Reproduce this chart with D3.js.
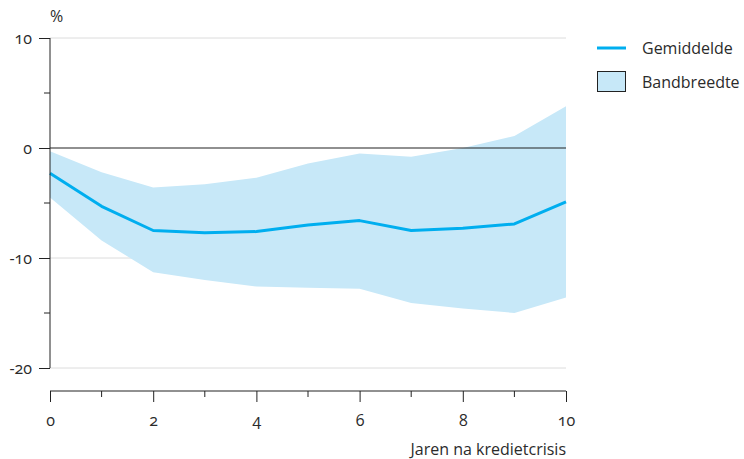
<!DOCTYPE html>
<html>
<head>
<meta charset="utf-8">
<script src="https://cdn.jsdelivr.net/npm/d3@7"></script>
<style>
  body { margin: 0; background: #fff; }
  text { font-family: "Open Sans", Lato, sans-serif; font-size: 16px; fill: #2b2b2b; font-variant-numeric: oldstyle-nums; }
</style>
</head>
<body>
<script>
// years after the credit crisis
const years = [0, 1, 2, 3, 4, 5, 6, 7, 8, 9, 10];
// mean (Gemiddelde), %
const mean = [-2.3, -5.3, -7.5, -7.7, -7.6, -7.0, -6.6, -7.5, -7.3, -6.9, -4.9];
// band (Bandbreedte) upper and lower edges, %
const upper = [-0.3, -2.2, -3.6, -3.3, -2.7, -1.4, -0.5, -0.8, 0.0, 1.1, 3.8];
const lower = [-4.5, -8.4, -11.3, -12.0, -12.6, -12.7, -12.8, -14.1, -14.6, -15.0, -13.6];
const yTicks = [10, 0, -10, -20];
const yMinor = [5, -5, -15];
const xTicks = [0, 2, 4, 6, 8, 10];
const xMinor = [1, 3, 5, 7, 9];

const width = 744, height = 459;
const svg = d3.select('body').append('svg')
  .attr('width', width)
  .attr('height', height);

const x = d3.scaleLinear().domain([0, 10]).range([50, 566]);
const y = d3.scaleLinear().domain([-20, 10]).range([368, 38]);
const xAxisY = 391;

const bandColor = '#c7e8f8';
const lineColor = '#00aeef';
const ink = '#222';

// gridlines
svg.append('g')
  .selectAll('line')
  .data(yTicks.filter(d => d !== 0))
  .join('line')
  .attr('x1', x(0)).attr('x2', x(10))
  .attr('y1', d => y(d)).attr('y2', d => y(d))
  .attr('stroke', '#dcdcdc').attr('stroke-width', 1);

// band
const area = d3.area()
  .x((d, i) => x(years[i]))
  .y0((d, i) => y(lower[i]))
  .y1((d, i) => y(upper[i]));
svg.append('path')
  .datum(years)
  .attr('d', area)
  .attr('fill', bandColor);

// zero line
svg.append('line')
  .attr('x1', x(0)).attr('x2', x(10))
  .attr('y1', y(0)).attr('y2', y(0))
  .attr('stroke', ink).attr('stroke-width', 1.2);

// mean line
const line = d3.line()
  .x((d, i) => x(years[i]))
  .y((d, i) => y(mean[i]));
svg.append('path')
  .datum(years)
  .attr('d', line)
  .attr('fill', 'none')
  .attr('stroke', lineColor)
  .attr('stroke-width', 3)
  .attr('stroke-linejoin', 'round');

// y axis
const yAxis = svg.append('g')
  .attr('transform', `translate(${x(0)},0)`)
  .call(d3.axisLeft(y).tickValues(yTicks).tickSize(11).tickPadding(7).tickFormat(d => String(d)));
yAxis.select('.domain').attr('d', `M0,${y(10)}V${y(-20)}`).attr('stroke', ink);
yAxis.selectAll('.tick line').attr('stroke', ink);
yAxis.selectAll('text').style('font-size', '16px').attr('fill', '#2b2b2b');
yAxis.append('g')
  .selectAll('line')
  .data(yMinor)
  .join('line')
  .attr('x1', -6).attr('x2', 0)
  .attr('y1', d => y(d)).attr('y2', d => y(d))
  .attr('stroke', ink);

// x axis
const xAxis = svg.append('g')
  .attr('transform', `translate(0,${xAxisY})`)
  .call(d3.axisBottom(x).tickValues(xTicks).tickSize(11).tickPadding(13).tickFormat(d => String(d)));
xAxis.select('.domain').attr('d', `M${x(0)},0H${x(10)}`).attr('stroke', ink);
xAxis.selectAll('.tick line').attr('stroke', ink);
xAxis.selectAll('text').style('font-size', '16px').attr('fill', '#2b2b2b');
xAxis.append('g')
  .selectAll('line')
  .data(xMinor)
  .join('line')
  .attr('x1', d => x(d)).attr('x2', d => x(d))
  .attr('y1', 0).attr('y2', 6)
  .attr('stroke', ink);

// unit label
svg.append('text')
  .attr('x', 50).attr('y', 22)
  .text('%');

// x axis title
svg.append('text')
  .attr('x', x(10)).attr('y', 455)
  .attr('text-anchor', 'end')
  .text('Jaren na kredietcrisis');

// legend
const legend = svg.append('g').attr('transform', 'translate(597,0)');
legend.append('line')
  .attr('x1', 0).attr('x2', 29)
  .attr('y1', 48).attr('y2', 48)
  .attr('stroke', lineColor).attr('stroke-width', 3);
legend.append('text')
  .attr('x', 45).attr('y', 54)
  .text('Gemiddelde');
legend.append('rect')
  .attr('x', 0.5).attr('y', 71.5)
  .attr('width', 28).attr('height', 20)
  .attr('fill', bandColor)
  .attr('stroke', ink).attr('stroke-width', 1);
legend.append('text')
  .attr('x', 45).attr('y', 88)
  .text('Bandbreedte');
</script>
</body>
</html>
